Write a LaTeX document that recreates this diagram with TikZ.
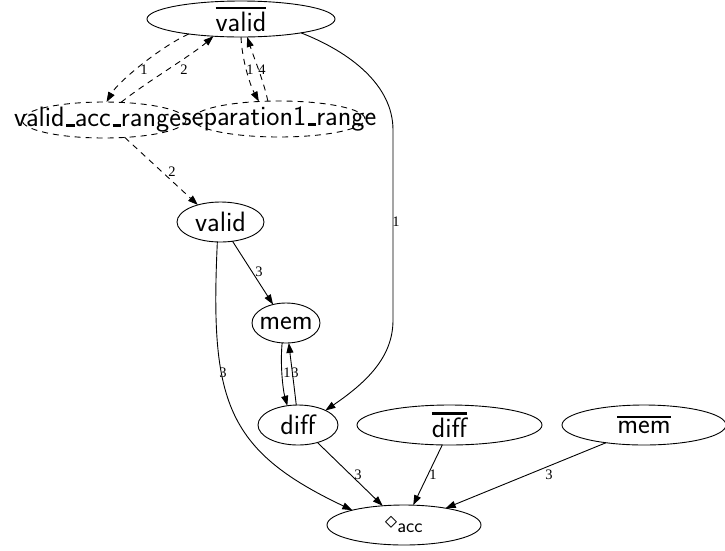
\documentclass[tikz,border=0pt]{standalone}
\usepackage{fontspec}
\newfontfamily\lblfont{Liberation Serif}
\usetikzlibrary{shapes.geometric,arrows.meta}
\newcommand\us{\leavevmode\kern.06em\vbox{\hrule width .3em height .1em}}
\newcommand\obar[1]{\vbox{\hrule height 2.2pt\kern 3pt\hbox{#1}}}
\begin{document}
\begin{tikzpicture}[x=1pt,y=-1pt,
  nd/.style={draw, ellipse, inner sep=0pt, outer sep=0pt, line width=0.9pt,
    font=\fontsize{28}{32}\selectfont\sffamily},
  dnd/.style={nd, dash pattern=on 6pt off 5pt},
  ed/.style={line width=0.9pt, -{Triangle[length=10pt,width=7pt]}},
  ded/.style={ed, dash pattern=on 6pt off 5pt},
  lbl/.style={font=\fontsize{14.5}{16}\selectfont\lblfont, inner sep=0pt}]
\useasboundingbox (0,0) rectangle (725,550);
\node[nd, minimum width=188pt, minimum height=36pt] (vb) at (241,19) {\makebox[0pt]{\obar{valid}}};
\node[dnd, minimum width=164pt, minimum height=36pt] (var) at (104,120) {\makebox[0pt]{\kern-13pt valid\us acc\us range}};
\node[dnd, minimum width=172pt, minimum height=36pt] (sep) at (279,119) {\makebox[0pt]{separation1\us range}};
\node[nd, minimum width=87pt, minimum height=40pt] (valid) at (220.5,222) {\makebox[0pt]{valid}};
\node[nd, minimum width=68pt, minimum height=40pt] (mem) at (286,323) {\makebox[0pt]{mem}};
\node[nd, minimum width=80pt, minimum height=40pt] (diff) at (298,425) {\makebox[0pt]{diff}};
\node[nd, minimum width=185pt, minimum height=40pt] (diffbar) at (449.5,425) {\makebox[0pt]{\obar{diff}}};
\node[nd, minimum width=164pt, minimum height=40pt] (membar) at (644,425) {\makebox[0pt]{\obar{mem}}};
\node[nd, minimum width=154pt, minimum height=40pt] (acc) at (404,525) {\makebox[0pt]{$\diamond_{\mathsf{acc}}$}};

\draw[ded] (vb.196) .. controls (160,47) and (118,82) .. (var.82) node[lbl, at={(144,70)}] {1};
\draw[ded] (var.46) .. controls (145,83) and (192,55) .. (vb.212) node[lbl, at={(184,70)}] {2};
\draw[ded] (vb.270) .. controls (242,60) and (250,85) .. (sep.139) node[lbl, at={(250,70)}] {1};
\draw[ded] (sep.122) .. controls (264,82) and (254,58) .. (vb.289) node[lbl, at={(262,70)}] {4};
\draw[ded] (var.-40) -- (valid.143) node[lbl, at={(172,172)}] {2};
\draw[ed] (vb.-13) .. controls (350,52) and (393,85) .. (393,130) -- (393,320) .. controls (393,355) and (370,380) .. (diff.28) node[lbl, at={(396,222)}] {1};
\draw[ed] (valid.-58) -- (mem.125) node[lbl, at={(259,272)}] {3};
\draw[ed] (valid.-99) .. controls (210,400) and (225,450) .. (acc.164) node[lbl, at={(223,373)}] {3};
\draw[ed] (mem.-101) .. controls (280,365) and (283,390) .. (diff.119) node[lbl, at={(287,373)}] {1};
\draw[ed] (diff.95) .. controls (294,385) and (291,362) .. (mem.-82) node[lbl, at={(295,373)}] {3};
\draw[ed] (diff.-42) -- (acc.138) node[lbl, at={(358,475)}] {3};
\draw[ed] (diffbar.-110) -- (acc.65) node[lbl, at={(433,475)}] {1};
\draw[ed] (membar.205) -- (acc.22) node[lbl, at={(549,475)}] {3};
\end{tikzpicture}
\end{document}
